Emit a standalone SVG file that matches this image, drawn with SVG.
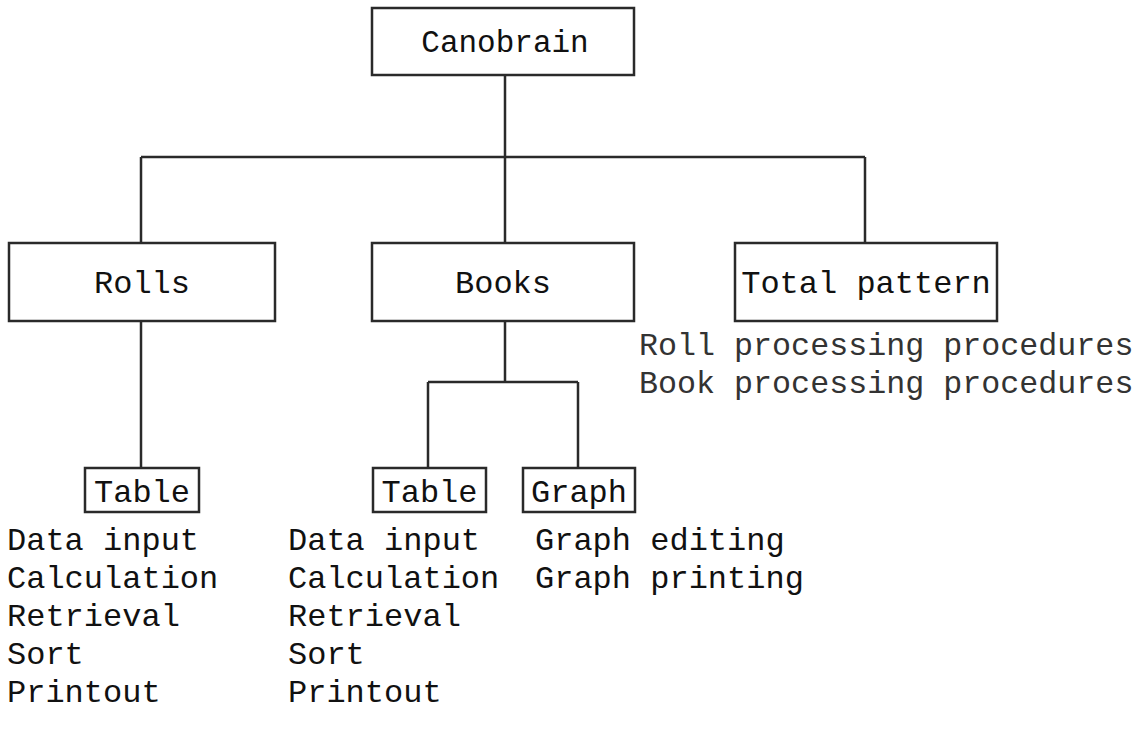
<svg xmlns="http://www.w3.org/2000/svg" width="1141" height="751" viewBox="0 0 1141 751">
<style>
.box{fill:#fff;stroke:#2a2a2a;stroke-width:2.5}
.ln{fill:none;stroke:#2a2a2a;stroke-width:2.5}
text{font-family:"Liberation Mono","Courier New",monospace;fill:#111}
.lbl{font-size:32px;text-anchor:middle}
.top{font-size:31px}
.lst{font-size:32px}
.proc{font-size:31.7px;fill:#333}
</style>
<rect width="1141" height="751" fill="#fff"/>
<g id="connectors">
<path class="ln" d="M505 75V157M141 157H865M141 157V243M505 157V243M865 157V243"/>
<path class="ln" d="M141 321V468"/>
<path class="ln" d="M505 321V382M428 382H578M428 382V468M578 382V468"/>
</g>
<g id="canobrain"><rect class="box" x="372" y="8" width="262" height="67"/><text class="lbl top" x="505" y="52">Canobrain</text></g>
<g id="rolls"><rect class="box" x="9" y="243" width="266" height="78"/><text class="lbl" x="142" y="293">Rolls</text></g>
<g id="books"><rect class="box" x="372" y="243" width="262" height="78"/><text class="lbl" x="503" y="293">Books</text></g>
<g id="total"><rect class="box" x="735" y="243" width="262" height="78"/><text class="lbl" x="866" y="293">Total pattern</text></g>
<g id="rolls-table"><rect class="box" x="85" y="468" width="114" height="44"/><text class="lbl" x="142" y="502">Table</text></g>
<g id="books-table"><rect class="box" x="373" y="468" width="113" height="44"/><text class="lbl" x="429.5" y="502">Table</text></g>
<g id="graph"><rect class="box" x="523" y="468" width="112" height="44"/><text class="lbl" x="579" y="502">Graph</text></g>
<g id="procedures">
<text class="proc" x="639" y="355">Roll processing procedures</text>
<text class="proc" x="639" y="393">Book processing procedures</text>
</g>
<g id="rolls-list">
<text class="lst" x="7" y="550">Data input</text>
<text class="lst" x="7" y="588">Calculation</text>
<text class="lst" x="7" y="626">Retrieval</text>
<text class="lst" x="7" y="664">Sort</text>
<text class="lst" x="7" y="702">Printout</text>
</g>
<g id="books-list">
<text class="lst" x="288" y="550">Data input</text>
<text class="lst" x="288" y="588">Calculation</text>
<text class="lst" x="288" y="626">Retrieval</text>
<text class="lst" x="288" y="664">Sort</text>
<text class="lst" x="288" y="702">Printout</text>
</g>
<g id="graph-list">
<text class="lst" x="535" y="550">Graph editing</text>
<text class="lst" x="535" y="588">Graph printing</text>
</g>
</svg>
